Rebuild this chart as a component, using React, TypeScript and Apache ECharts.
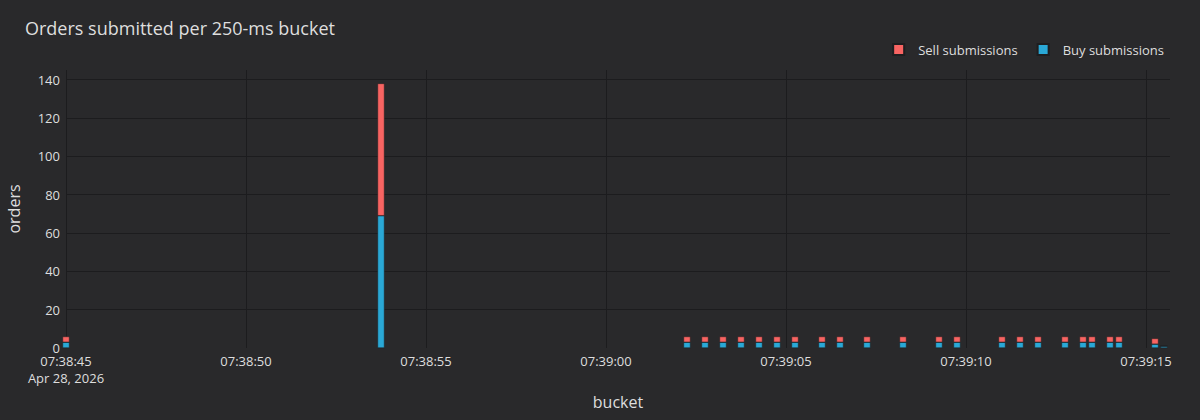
import React, { useEffect, useRef } from "react";
import * as echarts from "echarts";

const chartTitle = "Orders submitted per 250-ms bucket";
const bucketDate = [2026, 3, 28];
const bucketTimes = [
  "07:38:45.000", "07:38:53.750", "07:39:02.250", "07:39:02.750", "07:39:03.250",
  "07:39:03.750", "07:39:04.250", "07:39:04.750", "07:39:05.250", "07:39:06.000",
  "07:39:06.500", "07:39:07.250", "07:39:08.250", "07:39:09.250", "07:39:09.750",
  "07:39:11.000", "07:39:11.500", "07:39:12.000", "07:39:12.750", "07:39:13.250",
  "07:39:13.500", "07:39:14.000", "07:39:14.250", "07:39:15.250", "07:39:15.500",
];
const buySubmissions = [3, 69, 3, 3, 3, 3, 3, 3, 3, 3, 3, 3, 3, 3, 3, 3, 3, 3, 3, 3, 3, 3, 3, 2, 1];
const sellSubmissions = [3, 69, 3, 3, 3, 3, 3, 3, 3, 3, 3, 3, 3, 3, 3, 3, 3, 3, 3, 3, 3, 3, 3, 3, 0];
const xStart = "07:38:45.000";
const xEnd = "07:39:15.667";
const xTickStepMs = 5000;
const yTicks = [0, 20, 40, 60, 80, 100, 120, 140];
const yMax = 145;
const dateLabel = "Apr 28, 2026";

const toMs = (t: string) => {
  const [h, m, s] = t.split(":");
  const sec = parseFloat(s);
  const whole = Math.floor(sec);
  const ms = Math.round((sec - whole) * 1000);
  return Date.UTC(bucketDate[0], bucketDate[1], bucketDate[2], +h, +m, whole, ms);
};
const pad = (n: number) => String(n).padStart(2, "0");

const FONT = "'Open Sans', 'Noto Sans', sans-serif";
const TEXT = "#dedede";
const GRID = "#1c1c1e";
const BG = "#29292b";
const BAR_W = 7;
const GRID_LEFT = 66;
const GRID_RIGHT = 30;
const CHART_W = 1200;

export default function App() {
  const ref = useRef<HTMLDivElement>(null);
  useEffect(() => {
    if (!ref.current) return;
    const chart = echarts.init(ref.current, undefined, { renderer: "svg" });
    const minX = toMs(xStart);
    const maxX = toMs(xEnd);
    const xs = bucketTimes.map(toMs);
    // ECharts widens a bar series' base axis by half a bar on each side;
    // pre-shrink the hidden data axis so that it ends up spanning [minX, maxX].
    const axisLen = CHART_W - GRID_LEFT - GRID_RIGHT;
    const shrink = ((maxX - minX) * (BAR_W / 2)) / axisLen;
    const labelStyle = { color: TEXT, fontSize: 13, fontFamily: FONT, lineHeight: 17 };
    chart.setOption({
      animation: false,
      backgroundColor: BG,
      textStyle: { fontFamily: FONT },
      title: {
        text: chartTitle,
        left: 20,
        top: 14,
        textStyle: { color: TEXT, fontSize: 18, fontWeight: "normal", fontFamily: FONT },
      },
      legend: {
        data: ["Sell submissions", "Buy submissions"],
        right: 31,
        top: 38,
        icon: "rect",
        itemWidth: 11,
        itemHeight: 11,
        itemGap: 19,
        textStyle: { color: TEXT, fontSize: 13, fontFamily: FONT, padding: [0, 0, 0, 9] },
      },
      grid: {
        left: GRID_LEFT,
        right: GRID_RIGHT,
        top: 70,
        bottom: 72,
        containLabel: false,
        outerBoundsMode: "none",
      },
      xAxis: [
        {
          type: "value",
          position: "bottom",
          min: minX,
          max: maxX,
          interval: xTickStepMs,
          name: "bucket",
          nameLocation: "middle",
          nameGap: 46,
          nameTextStyle: { color: TEXT, fontSize: 16, fontFamily: FONT },
          axisLine: { show: false },
          axisTick: { show: false },
          axisLabel: {
            color: TEXT,
            fontSize: 13,
            fontFamily: FONT,
            margin: 4,
            showMaxLabel: false,
            rich: { t: labelStyle, d: labelStyle },
            formatter: (v: number) => {
              const d = new Date(v);
              const s = `${pad(d.getUTCHours())}:${pad(d.getUTCMinutes())}:${pad(d.getUTCSeconds())}`;
              return v === minX ? `{t|${s}}\n{d|${dateLabel}}` : `{t|${s}}`;
            },
          },
          splitLine: { show: true, showMaxLine: false, lineStyle: { color: GRID, width: 1 } },
        },
        {
          type: "time",
          show: false,
          min: minX + shrink,
          max: maxX - shrink,
          splitLine: { show: false },
        },
      ],
      yAxis: {
        type: "value",
        min: yTicks[0],
        max: yMax,
        interval: yTicks[1] - yTicks[0],
        name: "orders",
        nameLocation: "middle",
        nameGap: 44,
        nameTextStyle: { color: TEXT, fontSize: 16, fontFamily: FONT },
        axisLine: { show: false },
        axisTick: { show: false },
        axisLabel: { color: TEXT, fontSize: 13, fontFamily: FONT, margin: 6, showMaxLabel: false },
        splitLine: { show: true, showMinLine: false, showMaxLine: false, lineStyle: { color: GRID, width: 1 } },
      },
      series: [
        {
          name: "Buy submissions",
          type: "bar",
          xAxisIndex: 1,
          stack: "orders",
          barWidth: BAR_W,
          clip: false,
          itemStyle: { color: "#2aa8d6", borderColor: "#1e1e20", borderWidth: 0.5 },
          data: xs.map((x, i) => [x, buySubmissions[i]]),
        },
        {
          name: "Sell submissions",
          type: "bar",
          xAxisIndex: 1,
          stack: "orders",
          barWidth: BAR_W,
          clip: false,
          itemStyle: { color: "#f86462", borderColor: "#1e1e20", borderWidth: 0.5 },
          data: xs.map((x, i) => [x, sellSubmissions[i]]),
        },
      ],
    });
    return () => chart.dispose();
  }, []);
  return (
    <div
      ref={ref}
      style={{ position: "fixed", left: 0, top: 0, width: CHART_W, height: 420 }}
    />
  );
}
